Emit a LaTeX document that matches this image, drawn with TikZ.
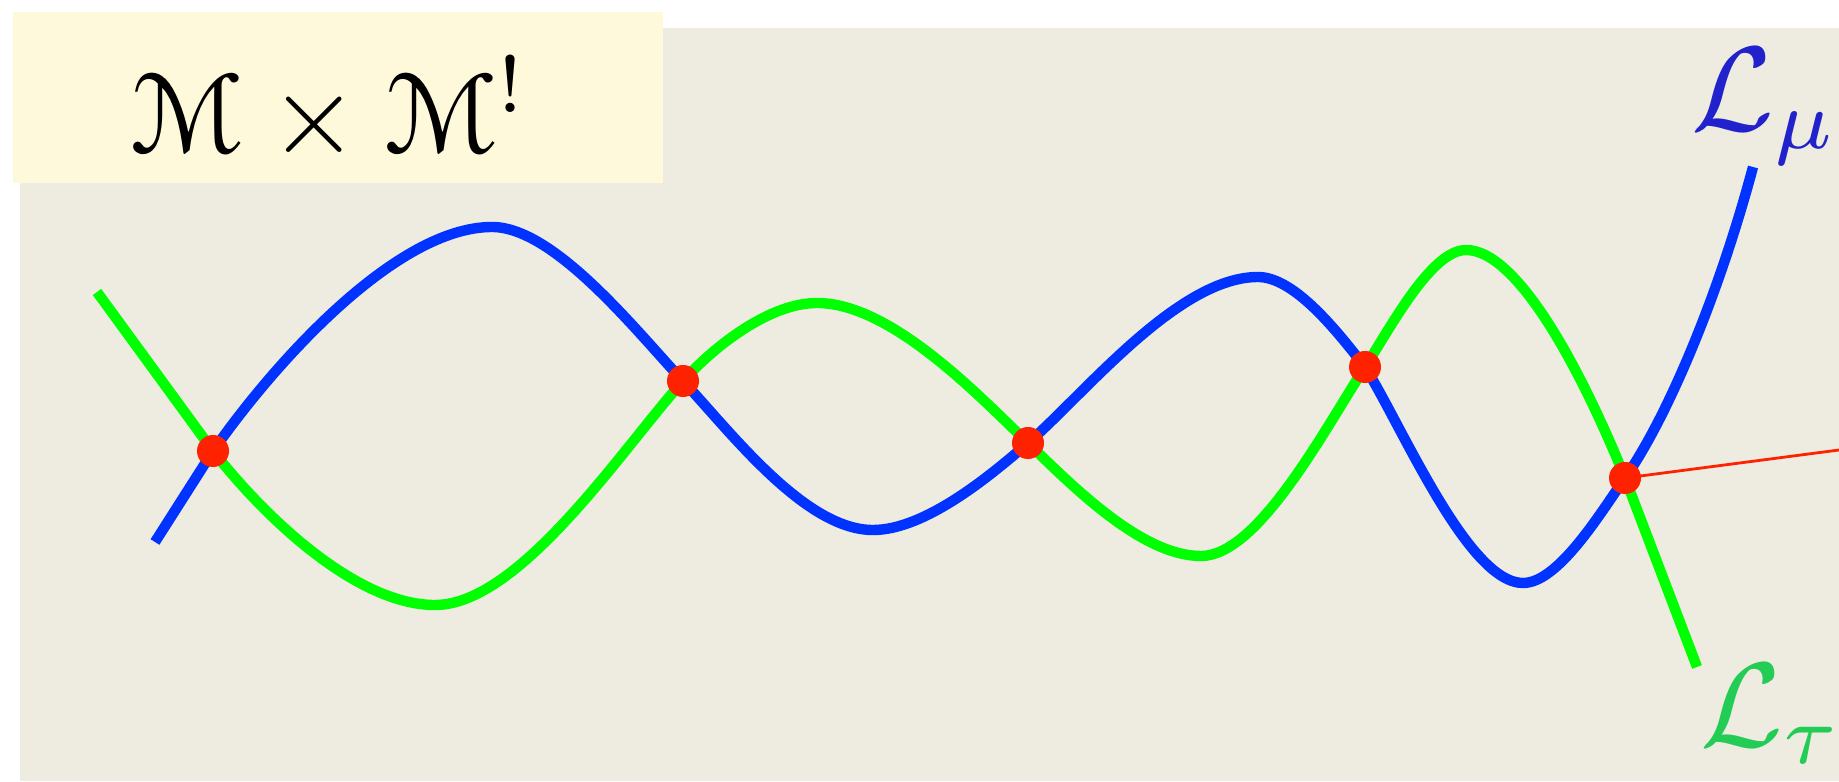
\documentclass[tikz,border=0pt]{standalone}
\usepackage[mathscr]{euscript}
\begin{document}
\begin{tikzpicture}[x=0.5pt,y=0.5pt]
\definecolor{canvasbg}{HTML}{EEEBE0}
\definecolor{titlebg}{HTML}{FFF9DC}
\definecolor{curvemu}{HTML}{0033FF}
\definecolor{curvetau}{HTML}{00FF00}
\definecolor{labelmu}{HTML}{2222CC}
\definecolor{labeltau}{HTML}{22CC55}
\definecolor{crossred}{HTML}{FF2200}
\tikzset{crossdot/.style={circle, fill=crossred, inner sep=0pt, minimum size=16pt},
  wave/.style={line width=5.2pt}}
\useasboundingbox (0,0) rectangle (1839,781);
\fill[canvasbg] (20,0) rectangle (1839,753);
\fill[titlebg] (13,598) rectangle (663,769);
\node[anchor=base, inner sep=0pt, scale=5.75] (title) at (330,627) {$\mathscr{M}\times\mathscr{M}^!$};
% crossing points of the two curves
\coordinate (p1) at (213,330);
\coordinate (p2) at (683,400);
\coordinate (p3) at (1028,338);
\coordinate (p4) at (1365,414);
\coordinate (p5) at (1625,303);
\coordinate (mustart) at (155,239);
\coordinate (muend) at (1753,614);
\coordinate (taustart) at (97,489);
\coordinate (tauend) at (1697,114);
\coordinate (redend) at (1839,331);
\draw[curvemu, wave] (mustart) -- (p1) .. controls +(55:110) and +(-95,0) .. (492,554)
  .. controls +(62,0) and +(133:70) .. (p2)
  .. controls +(-47:70) and +(-68,0) .. (873,251)
  .. controls +(52,0) and +(221:50) .. (p3)
  .. controls +(41:75) and +(-80,0) .. (1258,504)
  .. controls +(37,0) and +(128:43) .. (p4)
  .. controls +(-58:70) and +(-55,0) .. (1523,198)
  .. controls +(35,0) and +(235:44) .. (p5)
  .. controls +(55:70) and +(255:140) .. (muend);
\draw[curvetau, wave] (taustart) -- (p1) .. controls +(-52:85) and +(-78,0) .. (435,176)
  .. controls +(85,0) and +(228:90) .. (p2)
  .. controls +(48:48) and +(-47,0) .. (817,478)
  .. controls +(73,0) and +(136:72) .. (p3)
  .. controls +(-44:60) and +(-60,0) .. (1201,225)
  .. controls +(57,0) and +(237:75) .. (p4)
  .. controls +(57:46) and +(-35,0) .. (1466,531)
  .. controls +(55,0) and +(112:100) .. (p5)
  -- (tauend);
\draw[crossred, line width=1.4pt] (p5) -- (redend);
\foreach \i in {1,...,5}
  \node[crossdot] (dot\i) at (p\i) {};
\node[text=labelmu, anchor=base west, inner sep=0pt, scale=6] (lmu) at (1689,650) {$\mathcal{L}_\mu$};
\node[text=labeltau, anchor=base west, inner sep=0pt, scale=6] (ltau) at (1698,35) {$\mathcal{L}_\tau$};
\end{tikzpicture}
\end{document}
